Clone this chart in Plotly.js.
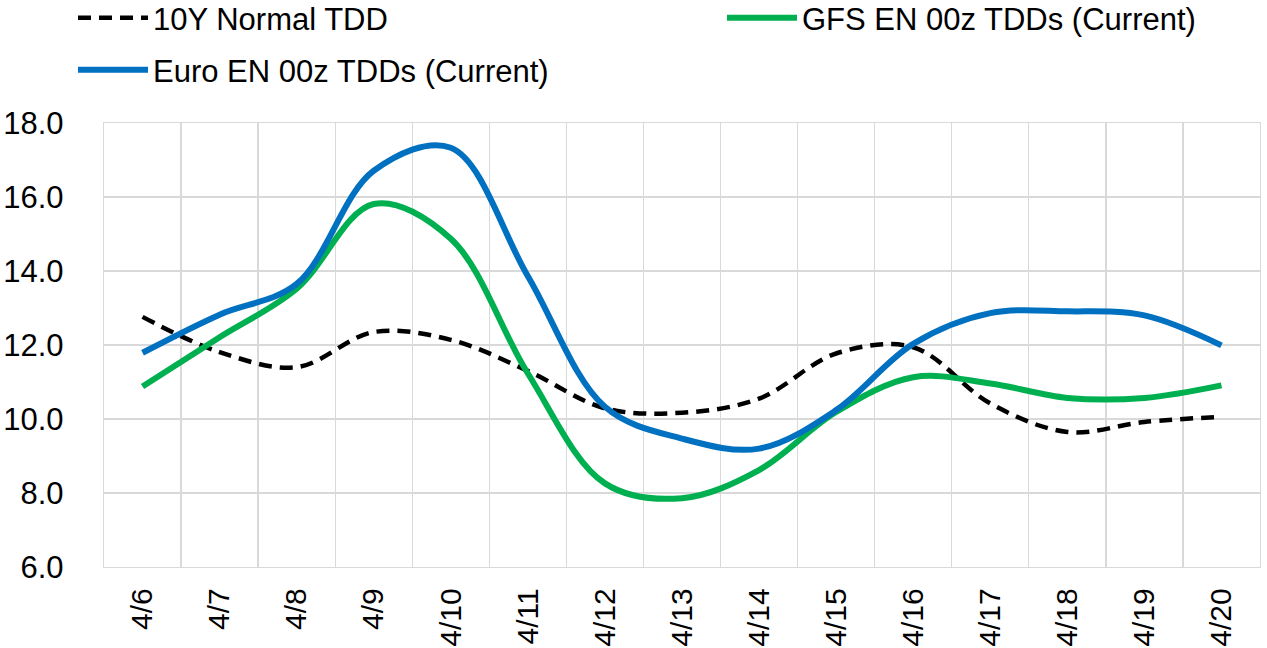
<!DOCTYPE html>
<html>
<head>
<meta charset="utf-8">
<script src="https://cdn.plot.ly/plotly-3.0.1.min.js"></script>
<style>
  html, body { margin: 0; padding: 0; background: #fff; }
  #chart { width: 1267px; height: 648px; }
</style>
</head>
<body>
<div id="chart"></div>
<script>
const categories = ["4/6","4/7","4/8","4/9","4/10","4/11","4/12","4/13","4/14","4/15","4/16","4/17","4/18","4/19","4/20"];
const normal10Y = [12.76, 11.81, 11.40, 12.35, 12.14, 11.30, 10.29, 10.17, 10.55, 11.77, 11.94, 10.42, 9.65, 9.92, 10.06];
const gfsEN = [10.88, 12.21, 13.52, 15.81, 14.87, 11.23, 8.26, 7.86, 8.62, 10.19, 11.13, 10.96, 10.57, 10.57, 10.91];
const euroEN = [11.79, 12.82, 13.65, 16.71, 17.33, 13.86, 10.33, 9.47, 9.20, 10.24, 12.03, 12.86, 12.91, 12.80, 11.99];
const yTicks = [6, 8, 10, 12, 14, 16, 18];

const FONT = "Liberation Sans, Arial, sans-serif";

const traces = [
  {
    x: categories, y: normal10Y, type: "scatter", mode: "lines",
    name: "10Y Normal TDD",
    line: { color: "#000000", width: 4.5, dash: "13px,8px", shape: "spline", smoothing: 1 },
    legend: "legend"
  },
  {
    x: categories, y: gfsEN, type: "scatter", mode: "lines",
    name: "GFS EN 00z TDDs (Current)",
    line: { color: "#00B050", width: 6, shape: "spline", smoothing: 1 },
    legend: "legend2"
  },
  {
    x: categories, y: euroEN, type: "scatter", mode: "lines",
    name: "Euro EN 00z TDDs (Current)",
    line: { color: "#0070C0", width: 6, shape: "spline", smoothing: 1 },
    legend: "legend3"
  }
];

const legendBase = {
  xanchor: "left", yanchor: "top",
  orientation: "h",
  bgcolor: "rgba(0,0,0,0)",
  font: { family: FONT, size: 31, color: "#000" },
  itemwidth: 70
};

const layout = {
  width: 1267, height: 648,
  margin: { l: 104, r: 7, t: 123, b: 81, autoexpand: false },
  paper_bgcolor: "#ffffff",
  plot_bgcolor: "#ffffff",
  showlegend: true,
  legend: Object.assign({}, legendBase, { x: -0.0268, y: 1.297 }),
  legend2: Object.assign({}, legendBase, { x: 0.5346, y: 1.297 }),
  legend3: Object.assign({}, legendBase, { x: -0.0268, y: 1.180 }),
  xaxis: {
    type: "category",
    range: [-0.5, categories.length - 0.5],
    tickson: "boundaries",
    ticks: "",
    showgrid: true,
    gridcolor: "#D9D9D9",
    gridwidth: 1.3,
    showline: true,
    linecolor: "#D9D9D9",
    linewidth: 1.3,
    mirror: true,
    zeroline: false,
    automargin: false,
    tickangle: -90,
    ticklabelstandoff: 8,
    tickfont: { family: FONT, size: 30, color: "#000" }
  },
  yaxis: {
    range: [6, 18],
    tickvals: yTicks,
    tickformat: ".1f",
    ticks: "",
    showgrid: true,
    gridcolor: "#D9D9D9",
    gridwidth: 1.3,
    showline: true,
    linecolor: "#D9D9D9",
    linewidth: 1.3,
    mirror: true,
    zeroline: false,
    automargin: false,
    ticklabelstandoff: 33,
    tickfont: { family: FONT, size: 31, color: "#000" }
  }
};

Plotly.newPlot("chart", traces, layout, { displayModeBar: false, staticPlot: true });
</script>
</body>
</html>
